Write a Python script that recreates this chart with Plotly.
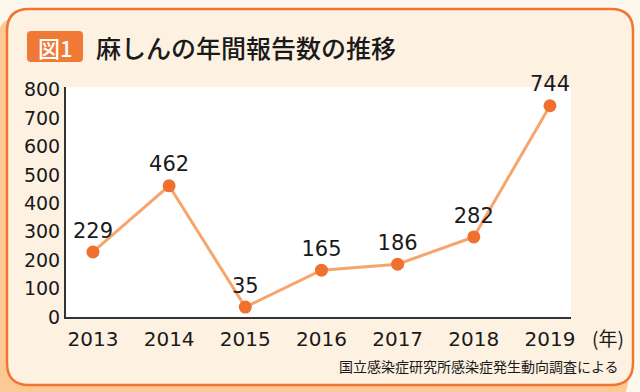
import plotly.graph_objects as go

years = [2013, 2014, 2015, 2016, 2017, 2018, 2019]
cases = [229, 462, 35, 165, 186, 282, 744]
y_ticks = [0, 100, 200, 300, 400, 500, 600, 700, 800]
title_text = "麻しんの年間報告数の推移"
fig_label = "図1"
unit_label = "(年)"
source_text = "国立感染症研究所感染症発生動向調査による"

W, H = 640, 392
L, R, T, B = 66, 571, 87, 317  # plot area in pixels

def px(x):
    return (x - L) / (R - L)

def py(y):
    return (B - y) / (B - T)

def rrect(x0, y0, x1, y1, r):
    def P(x, y):
        return f"{px(x):.5f},{py(y):.5f}"
    return (f"M {P(x0 + r, y0)} L {P(x1 - r, y0)} Q {P(x1, y0)} {P(x1, y0 + r)} "
            f"L {P(x1, y1 - r)} Q {P(x1, y1)} {P(x1 - r, y1)} "
            f"L {P(x0 + r, y1)} Q {P(x0, y1)} {P(x0, y1 - r)} "
            f"L {P(x0, y0 + r)} Q {P(x0, y0)} {P(x0 + r, y0)} Z")

NUM_FONT = "DejaVu Sans"
JP_FONT = "Noto Sans CJK JP"

fig = go.Figure()
fig.add_trace(go.Scatter(
    x=years, y=cases, mode="lines+markers+text",
    line=dict(color="#f7a56c", width=3),
    marker=dict(color="#f07030", size=13),
    text=[str(v) for v in cases], textposition="top center",
    textfont=dict(family=NUM_FONT, size=21, color="#1a1a1a"),
    cliponaxis=False, hoverinfo="skip",
))

shapes = [
    dict(type="path", xref="paper", yref="paper", path=rrect(-2, 17, 628, 402, 22),
         fillcolor="#fcc995", line=dict(width=0), layer="below"),
    dict(type="path", xref="paper", yref="paper", path=rrect(7, 9, 633, 385, 22),
         fillcolor="#fdf1e2", line=dict(color="#f07530", width=2.5), layer="below"),
    dict(type="rect", xref="paper", yref="paper", x0=0, x1=1, y0=0, y1=1,
         fillcolor="#ffffff", line=dict(width=0), layer="below"),
    dict(type="path", xref="paper", yref="paper", path=rrect(27, 31, 83, 62, 4),
         fillcolor="#f07a35", line=dict(width=0), layer="below"),
]

annotations = [
    dict(x=px(55), y=py(46.5), xref="paper", yref="paper", text=fig_label, showarrow=False,
         font=dict(family=JP_FONT, size=22, color="#ffffff", weight=500), xanchor="center", yanchor="middle"),
    dict(x=px(94), y=py(46.5), xref="paper", yref="paper", text=title_text, showarrow=False,
         font=dict(family=JP_FONT, size=25, color="#1a1a1a", weight=500), xanchor="left", yanchor="middle"),
    dict(x=px(626), y=py(337), xref="paper", yref="paper", text=unit_label, showarrow=False,
         font=dict(family=JP_FONT, size=19, color="#1a1a1a"), xanchor="right", yanchor="middle"),
    dict(x=px(621), y=py(366), xref="paper", yref="paper", text=source_text, showarrow=False,
         font=dict(family=JP_FONT, size=14, color="#1a1a1a"), xanchor="right", yanchor="middle"),
]

fig.update_layout(
    width=W, height=H,
    margin=dict(l=L, r=W - R, t=T, b=H - B, pad=0),
    paper_bgcolor="#fdf8ee", plot_bgcolor="rgba(0,0,0,0)",
    showlegend=False, shapes=shapes, annotations=annotations,
    xaxis=dict(range=[2012.646, 2019.276], tickvals=years, ticktext=[str(y) for y in years],
               showgrid=False, zeroline=False, showline=True, linecolor="#333333", linewidth=2,
               ticks="", tickfont=dict(family=NUM_FONT, size=20, color="#1a1a1a"),
               ticklabelstandoff=3, fixedrange=True),
    yaxis=dict(range=[0, 810], tickvals=y_ticks, ticktext=[str(v) for v in y_ticks],
               showgrid=False, zeroline=False, showline=True, linecolor="#333333", linewidth=2,
               ticks="", tickfont=dict(family=NUM_FONT, size=19, color="#1a1a1a"),
               ticklabelstandoff=0, fixedrange=True),
)

fig.write_html("out.html", config={"displayModeBar": False},
               post_script="document.body.style.margin='0';document.body.style.overflow='hidden';")
